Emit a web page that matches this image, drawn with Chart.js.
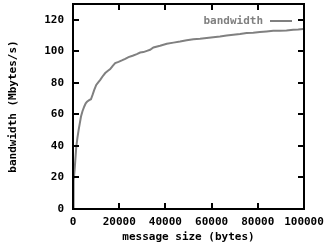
<!DOCTYPE html>
<html>
<head>
<meta charset="utf-8">
<script src="https://cdn.jsdelivr.net/npm/chart.js@4"></script>
<style>
  html, body { margin: 0; padding: 0; background: #fff; }
  #wrap { width: 326px; height: 244px; }
</style>
</head>
<body>
<div id="wrap"><canvas id="bw"></canvas></div>
<script>
const sizes = [0, 130, 400, 700, 1000, 1430, 1900, 2420, 2900, 3460, 4100, 4880, 5500, 6050,
    7000, 7770, 8500, 9200, 10060, 11000, 11790, 13000, 13950, 15000, 16110, 17200, 18270,
    19700, 21150, 22600, 24020, 25800, 27620, 29070, 30490, 32000, 33370, 34820, 37700,
    40600, 43500, 46350, 49200, 52110, 55000, 57870, 60700, 63630, 66500, 69390, 72300,
    75160, 78000, 80910, 83800, 86670, 89500, 92420, 95300, 97500, 99610];
const bandwidth = [0, 10, 18, 24.8, 31, 39.6, 45, 50, 54, 58.6, 62, 65, 67, 68,
    69, 69.6, 72.5, 75.5, 78.7, 80.5, 81.9, 84.5, 86.2, 87.5, 88.7, 90.8, 92.5,
    93.3, 94.2, 95.2, 96.3, 97.2, 98.2, 99.2, 99.5, 100.3, 101, 102.4, 103.5,
    104.8, 105.5, 106.2, 107, 107.7, 107.9, 108.4, 108.9, 109.4, 110, 110.5, 111,
    111.6, 111.8, 112.2, 112.6, 113, 113.1, 113.2, 113.6, 113.8, 114.1];
const xTicks = [0, 20000, 40000, 60000, 80000, 100000];
const yTicks = [0, 20, 40, 60, 80, 100, 120];

const FONT = { family: "'DejaVu Sans Mono', monospace", size: 11, weight: "bold" };
const GREY = "#808080";

// keep the plot box where the reference has it: no automatic label padding
function noPad(s) {
    s.paddingTop = 0; s.paddingBottom = 0; s.paddingLeft = 0; s.paddingRight = 0;
}

// gnuplot style frame: border with inward ticks on all four sides, key top-right
const framePlugin = {
    id: "frame",
    afterDatasetsDraw(chart) {
        const { ctx, chartArea: a, scales } = chart;
        const len = 6;
        ctx.save();
        ctx.strokeStyle = "#000";
        ctx.lineWidth = 2;
        ctx.strokeRect(a.left, a.top, a.right - a.left, a.bottom - a.top);
        ctx.beginPath();
        scales.x.ticks.forEach(t => {
            const px = Math.round(scales.x.getPixelForValue(t.value));
            if (px <= a.left + 1 || px >= a.right - 1) return;
            ctx.moveTo(px, a.bottom); ctx.lineTo(px, a.bottom - len);
            ctx.moveTo(px, a.top); ctx.lineTo(px, a.top + len);
        });
        scales.y.ticks.forEach(t => {
            const py = Math.round(scales.y.getPixelForValue(t.value));
            if (py >= a.bottom - 1 || py <= a.top + 1) return;
            ctx.moveTo(a.left, py); ctx.lineTo(a.left + len, py);
            ctx.moveTo(a.right, py); ctx.lineTo(a.right - len, py);
        });
        ctx.stroke();

        // key
        const ds = chart.data.datasets[0];
        const ky = a.top + 17;
        ctx.font = `${FONT.weight} ${FONT.size}px ${FONT.family}`;
        ctx.fillStyle = GREY;
        ctx.textAlign = "right";
        ctx.textBaseline = "middle";
        ctx.fillText(ds.label, a.right - 41, ky);
        ctx.strokeStyle = GREY;
        ctx.beginPath();
        ctx.moveTo(a.right - 34, ky);
        ctx.lineTo(a.right - 12, ky);
        ctx.stroke();
        ctx.restore();
    }
};

new Chart(document.getElementById("bw"), {
    type: "line",
    data: {
        datasets: [{
            label: "bandwidth",
            data: sizes.map((s, i) => ({ x: s, y: bandwidth[i] })),
            borderColor: GREY,
            borderWidth: 2,
            pointRadius: 0,
            tension: 0,
            fill: false
        }]
    },
    options: {
        responsive: true,
        maintainAspectRatio: false,
        animation: false,
        layout: { padding: { top: 4, right: 22, left: 0, bottom: 0 } },
        plugins: { legend: { display: false }, tooltip: { enabled: false } },
        scales: {
            x: {
                type: "linear",
                min: 0,
                max: 100000,
                afterBuildTicks: s => { s.ticks = xTicks.map(v => ({ value: v })); },
                afterFit: s => { s.height = 35; noPad(s); },
                grid: { display: false, drawTicks: false },
                border: { display: false },
                ticks: { color: "#000", font: FONT, padding: 7, maxRotation: 0, autoSkip: false,
                    callback: v => String(v) },
                title: { display: true, text: "message size (bytes)", color: "#000", font: FONT, padding: { top: 2, bottom: 0 } }
            },
            y: {
                min: 0,
                max: 130,
                afterBuildTicks: s => { s.ticks = yTicks.map(v => ({ value: v })); },
                afterFit: s => { s.width = 73; noPad(s); },
                grid: { display: false, drawTicks: false },
                border: { display: false },
                ticks: { color: "#000", font: FONT, padding: 9 },
                title: { display: true, text: "bandwidth (Mbytes/s)", color: "#000", font: FONT, padding: { top: 7, bottom: 0 } }
            }
        }
    },
    plugins: [framePlugin]
});
</script>
</body>
</html>
